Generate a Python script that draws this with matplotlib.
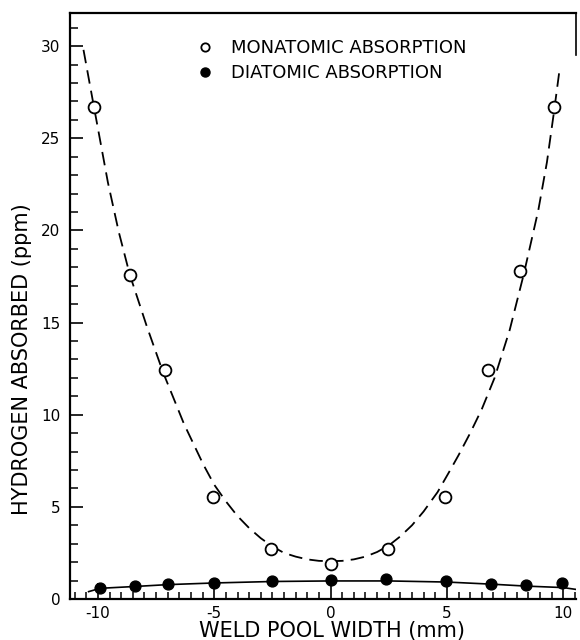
import matplotlib
matplotlib.use("Agg")
import matplotlib.pyplot as plt
from matplotlib.lines import Line2D
from matplotlib.ticker import MultipleLocator

# ---- data ----
mono_x = [-10.17, -8.63, -7.1, -5.04, -2.56, 0.0, 2.45, 4.9, 6.75, 8.16, 9.6]
mono_y = [26.7, 17.6, 12.45, 5.55, 2.7, 1.9, 2.7, 5.55, 12.4, 17.8, 26.7]

dia_x = [-9.9, -8.4, -7.0, -5.0, -2.5, 0.0, 2.4, 4.95, 6.9, 8.4, 9.96]
dia_y = [0.6, 0.7, 0.8, 0.87, 0.98, 1.03, 1.1, 0.95, 0.82, 0.76, 0.87]

# fitted curves as drawn in the figure
mono_fit_x = [-10.62, -10.17, -9.57, -9.1, -8.63, -7.9, -7.2, -6.3, -5.47, -5.0,
              -4.5, -4.0, -3.5, -3.0, -2.5, -2.0, -1.5, -1.0, -0.5, 0.0,
              0.5, 1.0, 1.5, 2.0, 2.5, 3.0, 3.5, 4.0, 4.6, 5.1, 5.5, 6.0,
              6.5, 7.05, 7.7, 8.3, 8.93, 9.3, 9.6, 9.83]
mono_fit_y = [29.8, 26.7, 22.6, 19.9, 17.6, 14.8, 12.3, 9.5, 7.3, 6.2,
              5.3, 4.5, 3.85, 3.3, 2.85, 2.5, 2.3, 2.15, 2.07, 2.05,
              2.07, 2.15, 2.3, 2.55, 2.9, 3.4, 4.0, 4.75, 5.8, 6.9, 7.8, 9.0,
              10.3, 12.0, 14.6, 17.6, 21.1, 23.7, 26.4, 28.6]

dia_fit_x = [-10.4, -9.9, -8.4, -7.0, -5.0, -2.5, 0.0, 2.5, 5.0, 7.0, 8.4, 10.0, 10.55]
dia_fit_y = [0.40, 0.58, 0.68, 0.78, 0.87, 0.95, 0.98, 0.98, 0.92, 0.80, 0.70, 0.62, 0.52]

xticks = [-10, -5, 0, 5, 10]
yticks = [0, 5, 10, 15, 20, 25, 30]

legend_labels = ["MONATOMIC ABSORPTION", "DIATOMIC ABSORPTION"]
xlabel = "WELD POOL WIDTH (mm)"
ylabel = "HYDROGEN ABSORBED (ppm)"

# ---- figure ----
plt.rcParams['font.family'] = ['DejaVu Sans']
fig = plt.figure(figsize=(5.8, 6.4), dpi=100)
ax = fig.add_axes([70/580, 1-599/640, 506/580, 586/640])

ax.plot(mono_fit_x, mono_fit_y, color='black', lw=1.3, dashes=(7.5, 4.0))
ax.plot(dia_fit_x, dia_fit_y, color='black', lw=1.2)
ax.plot(mono_x, mono_y, 'o', ms=8.5, mfc='white', mec='black', mew=1.3, zorder=5)
ax.plot(dia_x, dia_y, 'o', ms=7.8, mfc='black', mec='black', zorder=5)

ax.set_xlim(-11.2, 10.55)
ax.set_ylim(0, 31.8)
ax.set_xticks(xticks)
ax.set_xticklabels([str(t) for t in xticks])
ax.set_yticks(yticks)
ax.set_yticklabels([str(t) for t in yticks])
ax.xaxis.set_minor_locator(MultipleLocator(0.5))
ax.yaxis.set_minor_locator(MultipleLocator(1))

ax.tick_params(axis='x', which='major', direction='in', length=11.5, width=1.2,
               labelsize=11, pad=5, top=False)
ax.tick_params(axis='x', which='minor', direction='in', length=5, width=1.1, top=False)
ax.tick_params(axis='y', which='major', direction='in', length=9.5, width=1.2,
               labelsize=11, pad=7, right=False)
ax.tick_params(axis='y', which='minor', direction='in', length=6, width=1.1, right=False)

for s in ['left', 'bottom', 'top']:
    ax.spines[s].set_linewidth(1.6)
ax.spines['right'].set_linewidth(1.2)
ax.spines['right'].set_bounds(29.5, 31.8)

ax.set_xlabel(xlabel, fontsize=15)
ax.set_ylabel(ylabel, fontsize=15)
ax.xaxis.set_label_coords(0.518, -0.037)
ax.yaxis.set_label_coords(-0.075, 0.41)

handles = [
    Line2D([], [], ls='none', marker='o', ms=6, mfc='white', mec='black', mew=1.3),
    Line2D([], [], ls='none', marker='o', ms=6.5, mfc='black', mec='black'),
]
ax.legend(handles, legend_labels, loc='upper left',
          bbox_to_anchor=(196/580, 1-39/640), bbox_transform=fig.transFigure,
          frameon=False, fontsize=13, handlelength=1.0, handletextpad=0.95,
          labelspacing=0.38, borderpad=0, borderaxespad=0)

fig.savefig("out.png", dpi=100)
